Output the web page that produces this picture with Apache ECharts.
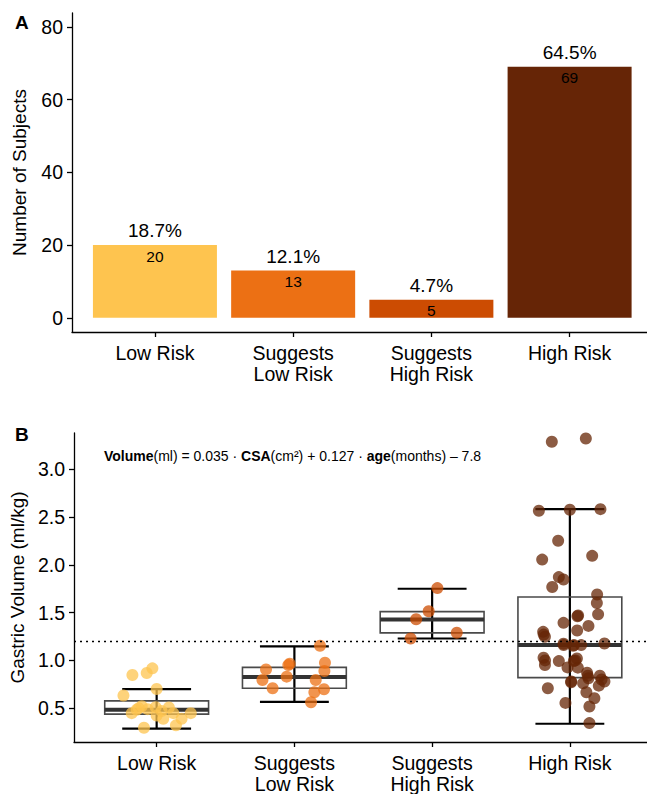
<!DOCTYPE html>
<html><head><meta charset="utf-8">
<script src="https://cdn.jsdelivr.net/npm/echarts@6/dist/echarts.min.js"></script>
<style>html,body{margin:0;padding:0;background:#fff}#c{width:647px;height:794px}</style>
</head><body><div id="c"></div>
<script>
// ---------- data ----------
const categories = ['Low Risk', 'Suggests\nLow Risk', 'Suggests\nHigh Risk', 'High Risk'];
const subjectCounts = [20, 13, 5, 69];
const percentLabels = ['18.7%', '12.1%', '4.7%', '64.5%'];
const countTicks = [0, 20, 40, 60, 80];
const volumeTicks = [0.5, 1.0, 1.5, 2.0, 2.5, 3.0];
const groupColors = ['#fec44f', '#ec7014', '#cc4c02', '#662506'];
const volumeThreshold = 1.2;
// box statistics per group: [whisker min, q1, median, q3, whisker max]
const boxLow = [0.285, 0.438, 0.483, 0.576, 0.70];
const boxSugLow = [0.566, 0.708, 0.826, 0.927, 1.146];
const boxSugHigh = [1.229, 1.288, 1.427, 1.51, 1.75];
const boxHigh = [0.337, 0.82, 1.16, 1.663, 2.583];
// jittered observations: [jitter offset (category units), gastric volume ml/kg]
const lowRiskPoints = [[-0.176,0.847],[-0.072,0.868],[-0.031,0.917],[0.0,0.70],[-0.241,0.632],[-0.108,0.52],[-0.145,0.483],[-0.181,0.448],[-0.007,0.51],[0.089,0.507],[0.0,0.424],[0.048,0.389],[0.121,0.448],[0.181,0.389],[0.248,0.448],[0.14,0.32],[-0.092,0.295],[-0.065,0.49],[0.036,0.47],[-0.13,0.50]];
const sugLowPoints = [[0.186,1.153],[0.222,0.976],[0.218,0.889],[-0.044,0.951],[-0.056,0.830],[-0.206,0.906],[-0.232,0.795],[-0.158,0.708],[0.155,0.795],[0.145,0.667],[0.215,0.698],[0.121,0.5625],[-0.034,0.965]];
const sugHighPoints = [[0.038,1.757],[-0.025,1.514],[-0.116,1.43],[0.179,1.289],[-0.156,1.229]];
const highRiskPoints = [[-0.131,3.289],[0.116,3.323],[-0.225,2.566],[0.0,2.576],[0.222,2.583],[-0.085,2.253],[-0.201,2.055],[0.162,2.094],[-0.08,1.872],[-0.046,1.847],[-0.128,1.768],[0.198,1.69],[0.196,1.601],[0.205,1.482],[0.055,1.462],[-0.046,1.393],[0.135,1.361],[0.053,1.3125],[-0.194,1.299],[-0.181,1.247],[-0.046,1.174],[0.024,1.153],[0.082,1.16],[0.251,1.177],[-0.191,1.028],[-0.181,0.951],[-0.08,0.993],[0.051,1.021],[0.029,0.993],[-0.017,0.927],[0.058,0.924],[0.125,0.872],[0.135,0.8125],[0.218,0.84],[0.251,0.778],[0.21,0.736],[0.009,0.771],[0.096,0.76],[-0.16,0.708],[0.12,0.667],[0.178,0.604],[-0.032,0.555],[0.142,0.518],[0.142,0.344],[-0.19,1.27],[-0.18,1.0],[0.03,1.16],[0.04,1.0],[0.13,0.84],[0.23,0.80],[0.01,0.78],[-0.045,1.16],[0.06,1.47]];

// ---------- chart ----------
const FONT = "'Liberation Sans', Arial, Helvetica, sans-serif";
const groupPoints = [lowRiskPoints, sugLowPoints, sugHighPoints, highRiskPoints];
const boxStats = [boxLow, boxSugLow, boxSugHigh, boxHigh];
const catPos = categories.map((c, i) => i + 1);

function xAxisCfg(gi) {
  return {
    type: 'value', gridIndex: gi, min: 0.4, max: 4.56,
    axisLine: {onZero: false, lineStyle: {color: '#000', width: 1.3}},
    axisTick: {customValues: catPos, length: 5, lineStyle: {color: '#000', width: 1.3}},
    axisLabel: {customValues: catPos, formatter: v => categories[Math.round(v) - 1],
      color: '#000', fontSize: 19.5, lineHeight: 21, margin: 10, fontFamily: FONT},
    splitLine: {show: false}
  };
}
function yAxisCfg(gi, min, max, ticks, name, fmt) {
  return {
    type: 'value', gridIndex: gi, min, max,
    name, nameLocation: 'middle', nameGap: 43,
    nameTextStyle: {fontSize: 19, color: '#000', fontFamily: FONT},
    axisLine: {show: true, onZero: false, lineStyle: {color: '#000', width: 1.3}},
    axisTick: {show: true, customValues: ticks, length: 5, lineStyle: {color: '#000', width: 1.3}},
    axisLabel: {customValues: ticks, formatter: fmt, color: '#000', fontSize: 19.5, margin: 9, fontFamily: FONT},
    splitLine: {show: false}
  };
}

const barData = subjectCounts.map((v, i) => ({value: [i + 1, v], itemStyle: {color: groupColors[i]}}));
const scatterData = [];
groupPoints.forEach((pts, g) => pts.forEach(([j, v]) =>
  scatterData.push({value: [g + 1 + j, v], itemStyle: {color: groupColors[g]}})));

const option = {
  animation: false,
  backgroundColor: '#fff',
  textStyle: {fontFamily: FONT},
  title: [
    {text: 'A', left: 10, top: 8, textStyle: {fontSize: 19, fontWeight: 'bold', color: '#000', fontFamily: FONT}},
    {text: 'B', left: 10, top: 420, textStyle: {fontSize: 19, fontWeight: 'bold', color: '#000', fontFamily: FONT}},
    {text: '{b|Volume}(ml) = 0.035 · {b|CSA}(cm²) + 0.127 · {b|age}(months) – 7.8',
     left: 99, top: 444,
     textStyle: {fontSize: 14, fontWeight: 'normal', color: '#000', fontFamily: FONT,
       rich: {b: {fontWeight: 'bold', fontSize: 14, color: '#000', fontFamily: FONT}}}}
  ],
  grid: [
    {left: 72, width: 575, top: 13, height: 319},
    {left: 72, width: 575, top: 433, height: 311}
  ],
  xAxis: [xAxisCfg(0), xAxisCfg(1)],
  yAxis: [
    yAxisCfg(0, -3.9, 83.8, countTicks, 'Number of Subjects', v => String(v)),
    yAxisCfg(1, 0.146, 3.38, volumeTicks, 'Gastric Volume (ml/kg)', v => v.toFixed(1))
  ],
  series: [
    {type: 'bar', xAxisIndex: 0, yAxisIndex: 0, data: barData, barWidth: 124,
     label: {show: true, position: 'insideTop', distance: 3, color: '#000', fontSize: 15.5, fontFamily: FONT,
       formatter: p => String(p.value[1])}},
    {type: 'bar', xAxisIndex: 0, yAxisIndex: 0, data: barData.map(d => ({value: d.value})), barWidth: 124, barGap: '-100%',
     itemStyle: {color: 'rgba(0,0,0,0)'},
     label: {show: true, position: 'top', distance: 5, color: '#000', fontSize: 19, fontFamily: FONT,
       formatter: p => percentLabels[p.dataIndex]}},
    {type: 'custom', xAxisIndex: 1, yAxisIndex: 1, z: 2,
     data: boxStats.map((s, i) => [i + 1, ...s]),
     renderItem: (params, api) => {
       const x = api.value(0);
       const mn = api.value(1), q1 = api.value(2), md = api.value(3), q3 = api.value(4), mx = api.value(5);
       const c = (dx, v) => api.coord([x + dx, v]);
       const top = c(0, mx), bot = c(0, mn);
       const capL1 = c(-0.25, mx), capR1 = c(0.25, mx), capL2 = c(-0.25, mn), capR2 = c(0.25, mn);
       const bTL = c(-0.377, q3), bBR = c(0.377, q1);
       const mL = c(-0.377, md), mR = c(0.377, md);
       const wStyle = {stroke: '#000', lineWidth: 2.2};
       return {type: 'group', children: [
         {type: 'line', shape: {x1: top[0], y1: top[1], x2: bot[0], y2: bot[1]}, style: wStyle},
         {type: 'line', shape: {x1: capL1[0], y1: capL1[1], x2: capR1[0], y2: capR1[1]}, style: wStyle},
         {type: 'line', shape: {x1: capL2[0], y1: capL2[1], x2: capR2[0], y2: capR2[1]}, style: wStyle},
         {type: 'rect', shape: {x: bTL[0], y: bTL[1], width: bBR[0] - bTL[0], height: bBR[1] - bTL[1]},
          style: {fill: 'rgba(255,255,255,0)', stroke: '#4a4a4a', lineWidth: 1.6}},
         {type: 'line', shape: {x1: mL[0], y1: mL[1], x2: mR[0], y2: mR[1]}, style: {stroke: '#333', lineWidth: 4}}
       ]};
     }},
    {type: 'scatter', xAxisIndex: 1, yAxisIndex: 1, z: 3, data: scatterData, symbolSize: 12,
     itemStyle: {opacity: 0.75},
     markLine: {silent: true, symbol: 'none', label: {show: false},
       lineStyle: {type: [2, 4], color: '#000', width: 1.3},
       data: [{yAxis: volumeThreshold}]}}
  ]
};
const chart = echarts.init(document.getElementById('c'), null, {renderer: 'svg', width: 647, height: 794});
chart.setOption(option);
</script></body></html>
